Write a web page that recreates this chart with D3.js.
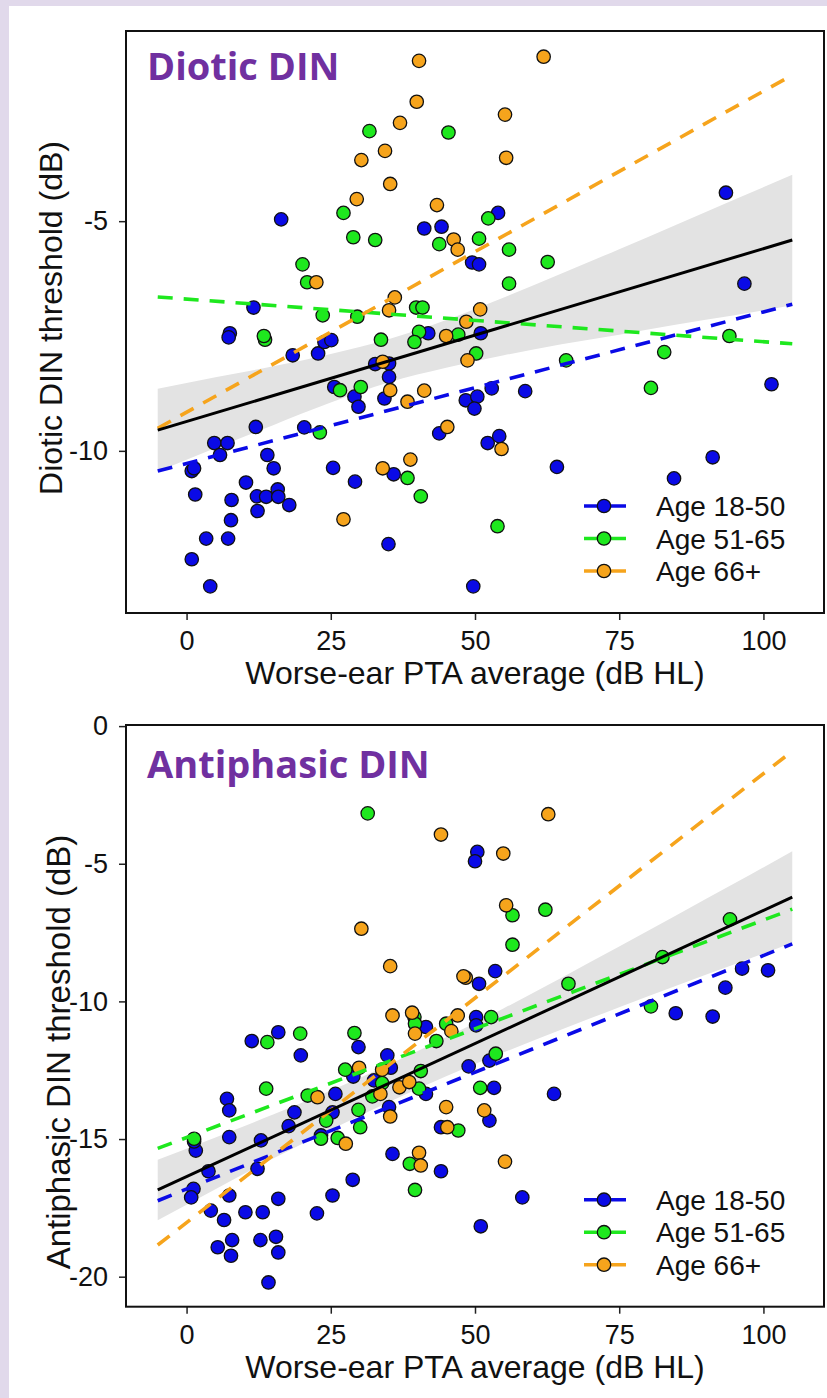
<!DOCTYPE html>
<html>
<head>
<meta charset="utf-8">
<script src="https://cdn.jsdelivr.net/npm/d3@7"></script>
<style>
  body { margin: 0; background: #e1d9eb; }
  svg { display: block; }
  .tick text { font-family: "Liberation Sans", Arial, sans-serif; font-size: 27px; fill: #111; }
  .tick line { stroke: #222; stroke-width: 1.5; }
</style>
</head>
<body>
<script>
// ---- data ----
var xTicks = [0, 25, 50, 75, 100];
var dioticTicks = [-10, -5];
var antiTicks = [-20, -15, -10, -5, 0];
var groups = ['Age 18-50', 'Age 51-65', 'Age 66+'];
var groupColors = ['#0a0ae6', '#1ee81e', '#f6a41c'];

var dioticYoung = [[16.4,-4.96],[41.2,-5.16],[44.2,-5.12],[11.6,-6.88],[93.5,-4.38],[96.7,-6.36],[54.0,-4.82],[49.5,-5.90],[50.7,-5.94],[41.9,-7.44],[51.0,-7.44],[48.4,-8.90],[50.4,-8.82],[49.9,-9.08],[52.9,-8.64],[58.7,-8.70],[101.4,-8.55],[43.8,-9.62],[52.2,-9.83],[54.2,-9.68],[64.2,-10.35],[84.5,-10.60],[91.2,-10.14],[49.7,-12.95],[7.5,-7.44],[7.3,-7.53],[18.4,-7.92],[22.8,-7.88],[23.9,-7.63],[25.1,-7.59],[32.7,-8.11],[35.1,-8.10],[35.1,-8.39],[25.6,-8.61],[29.1,-8.82],[29.8,-9.04],[34.3,-8.86],[12.0,-9.48],[20.4,-9.49],[4.8,-9.83],[7.1,-9.83],[5.8,-10.09],[14.0,-10.09],[0.9,-10.44],[1.3,-10.38],[15.1,-10.38],[25.4,-10.37],[29.2,-10.67],[35.9,-10.51],[1.5,-10.95],[10.3,-10.69],[7.8,-11.07],[12.2,-10.99],[13.8,-11.00],[15.8,-10.84],[15.9,-11.00],[17.8,-11.18],[12.3,-11.31],[7.7,-11.51],[3.4,-11.91],[7.2,-11.91],[35.0,-12.03],[0.9,-12.36],[4.1,-12.95]];
var dioticMid = [[31.7,-3.04],[45.4,-3.07],[27.2,-4.82],[28.9,-5.35],[32.7,-5.41],[43.8,-5.50],[20.1,-5.94],[20.9,-6.33],[23.6,-7.05],[29.6,-7.08],[39.8,-6.88],[40.9,-6.88],[52.3,-4.94],[50.7,-5.38],[55.9,-5.62],[62.6,-5.89],[55.9,-6.36],[40.3,-7.41],[47.1,-7.47],[50.2,-7.88],[65.8,-8.03],[82.8,-7.85],[94.1,-7.50],[80.5,-8.63],[40.6,-10.99],[53.9,-11.64],[13.6,-7.58],[13.4,-7.50],[33.7,-7.58],[39.5,-7.63],[26.6,-8.68],[30.2,-8.61],[23.1,-9.60],[38.3,-10.59]];
var dioticOld = [[40.3,-1.51],[39.9,-2.40],[37.0,-2.86],[34.4,-3.47],[30.3,-3.67],[35.3,-4.19],[29.5,-4.52],[43.4,-4.65],[22.5,-6.33],[46.3,-5.40],[47.0,-5.62],[36.1,-6.66],[35.1,-6.94],[61.9,-1.42],[55.2,-2.68],[55.4,-3.62],[50.9,-6.92],[48.5,-7.19],[45.0,-7.50],[48.7,-8.03],[41.2,-8.69],[45.2,-9.48],[54.6,-9.96],[34.0,-8.06],[35.3,-8.68],[38.3,-8.93],[34.0,-10.38],[38.8,-10.19],[27.2,-11.49]];

var antiYoung = [[50.4,-4.57],[50.0,-4.91],[53.5,-8.90],[50.7,-9.36],[93.4,-9.50],[96.3,-8.81],[100.8,-8.87],[84.8,-10.43],[91.2,-10.55],[50.2,-10.57],[50.2,-10.87],[41.5,-10.93],[48.9,-12.36],[52.5,-12.15],[41.5,-13.36],[53.3,-13.14],[63.7,-13.36],[52.5,-14.33],[44.1,-14.57],[44.1,-16.17],[58.2,-17.12],[51.0,-18.17],[11.3,-11.44],[15.9,-11.12],[19.8,-11.96],[29.8,-11.66],[34.8,-11.96],[35.4,-12.41],[28.9,-12.73],[7.0,-13.54],[7.4,-13.96],[18.7,-14.03],[25.8,-13.36],[32.5,-12.87],[35.1,-13.84],[17.7,-14.53],[25.3,-14.03],[23.3,-14.87],[7.4,-14.93],[12.9,-15.05],[1.6,-15.42],[1.3,-15.09],[35.7,-15.54],[3.8,-16.17],[12.3,-16.08],[28.8,-16.48],[1.2,-16.81],[0.8,-17.12],[7.4,-17.05],[15.9,-17.17],[25.3,-17.05],[4.2,-17.60],[10.2,-17.66],[13.2,-17.66],[22.6,-17.70],[6.5,-17.94],[7.9,-18.67],[5.4,-18.93],[7.7,-19.24],[12.8,-18.67],[15.5,-18.55],[15.9,-19.12],[14.2,-20.21]];
var antiMid = [[31.4,-3.17],[56.5,-6.87],[62.2,-6.67],[56.5,-7.94],[66.2,-9.36],[82.5,-8.39],[94.2,-7.02],[80.5,-10.18],[52.8,-10.57],[39.5,-10.57],[39.6,-10.81],[45.0,-10.81],[43.3,-11.44],[53.6,-11.90],[40.6,-12.53],[40.3,-13.17],[50.9,-13.14],[47.1,-14.69],[39.6,-16.85],[14.0,-11.48],[19.7,-11.17],[29.1,-11.15],[27.5,-12.48],[13.8,-13.17],[21.0,-13.42],[33.9,-12.97],[32.2,-13.45],[29.8,-13.94],[30.1,-14.57],[24.2,-14.33],[23.3,-14.99],[26.2,-14.96],[1.3,-14.99],[38.7,-15.90]];
var antiOld = [[44.1,-3.94],[62.7,-3.20],[54.9,-4.63],[30.3,-7.36],[35.3,-8.72],[55.4,-6.51],[48.4,-9.14],[48.0,-9.09],[35.7,-10.51],[39.1,-10.41],[39.6,-11.17],[47.0,-10.51],[45.9,-11.08],[33.9,-12.48],[29.9,-12.41],[22.7,-13.48],[33.6,-13.36],[36.9,-13.12],[38.6,-12.93],[35.3,-14.18],[27.6,-15.17],[45.0,-13.84],[51.6,-13.96],[45.2,-14.57],[40.3,-15.50],[40.6,-15.96],[55.2,-15.82]];

// regression lines (value at x = -5 and x = 105)
var fitX = [-5, 105];
var dioticFitAll = [-9.55, -5.41];
var dioticFitGroups = [[-10.44, -6.81], [-6.65, -7.67], [-9.51, -1.82]];
var antiFitAll = [-16.85, -6.21];
var antiFitGroups = [[-17.24, -7.91], [-15.34, -6.65], [-18.85, -0.91]];

// confidence band of the overall fit
var bandX = [-5, 5, 15, 25, 35, 45, 55, 65, 75, 85, 95, 105];
var dioticUpper = [-8.65, -8.40, -8.16, -7.89, -7.57, -7.15, -6.66, -6.14, -5.61, -5.07, -4.53, -3.99];
var dioticLower = [-10.45, -9.94, -9.44, -8.95, -8.51, -8.19, -7.92, -7.68, -7.47, -7.25, -7.05, -6.83];
var antiUpper = [-15.75, -14.94, -14.11, -13.24, -12.30, -11.30, -10.25, -9.14, -8.01, -6.86, -5.71, -4.55];
var antiLower = [-17.95, -16.82, -15.71, -14.66, -13.66, -12.72, -11.85, -11.02, -10.21, -9.42, -8.65, -7.87];

// ---- layout ----
var width = 827, height = 1398;
var left = 126, right = 824;
var xDomain = [-10.5, 110.5];

var svg = d3.select('body').append('svg')
  .attr('width', width)
  .attr('height', height);

svg.append('rect').attr('width', width).attr('height', height).attr('fill', '#e1d9eb');
svg.append('rect').attr('x', 9).attr('y', 6).attr('width', width - 9).attr('height', height - 6).attr('fill', '#fff');

var panels = [
  { title: 'Diotic DIN', titleY: 80, yLabel: 'Diotic DIN threshold (dB)', yLabelX: 62, yLabelY: 318, yLabelSize: 32,
    top: 31, bottom: 613, yDomain: [-13.53, -0.86], yTicks: dioticTicks,
    pts: [dioticYoung, dioticMid, dioticOld], fitAll: dioticFitAll, fitGroups: dioticFitGroups,
    upper: dioticUpper, lower: dioticLower },
  { title: 'Antiphasic DIN', titleY: 778, yLabel: 'Antiphasic DIN threshold (dB)', yLabelX: 70, yLabelY: 1052, yLabelSize: 33,
    top: 725, bottom: 1306.7, yDomain: [-21.09, 0.04], yTicks: antiTicks,
    pts: [antiYoung, antiMid, antiOld], fitAll: antiFitAll, fitGroups: antiFitGroups,
    upper: antiUpper, lower: antiLower }
];

panels.forEach(function (p) {
  var x = d3.scaleLinear().domain(xDomain).range([left, right]);
  var y = d3.scaleLinear().domain(p.yDomain).range([p.bottom, p.top]);
  var g = svg.append('g');

  // grey band
  var area = d3.area()
    .x(function (d, i) { return x(bandX[i]); })
    .y0(function (d, i) { return y(p.lower[i]); })
    .y1(function (d) { return y(d); })
    .curve(d3.curveMonotoneX);
  g.append('path').datum(p.upper).attr('d', area).attr('fill', '#e3e3e3');

  // points
  p.pts.forEach(function (set, gi) {
    g.append('g').selectAll('circle')
      .data(set)
      .join('circle')
      .attr('cx', function (d) { return x(d[0]); })
      .attr('cy', function (d) { return y(d[1]); })
      .attr('r', 6.7)
      .attr('fill', groupColors[gi])
      .attr('stroke', '#111')
      .attr('stroke-width', 1.3);
  });

  var line = d3.line()
    .x(function (d, i) { return x(fitX[i]); })
    .y(function (d) { return y(d); });

  // group fits (dashed)
  p.fitGroups.forEach(function (f, gi) {
    g.append('path').datum(f).attr('d', line)
      .attr('fill', 'none')
      .attr('stroke', groupColors[gi])
      .attr('stroke-width', 3.6)
      .attr('stroke-dasharray', '15 11');
  });

  // overall fit
  g.append('path').datum(p.fitAll).attr('d', line)
    .attr('fill', 'none').attr('stroke', '#000').attr('stroke-width', 3);

  // axes
  g.append('g')
    .attr('transform', 'translate(0,' + p.bottom + ')')
    .call(d3.axisBottom(x).tickValues(xTicks).tickSize(7).tickPadding(11).tickFormat(function (d) { return String(d); }))
    .call(function (a) { a.select('.domain').remove(); });
  g.append('g')
    .attr('transform', 'translate(' + left + ',0)')
    .call(d3.axisLeft(y).tickValues(p.yTicks).tickSize(7).tickPadding(11).tickFormat(function (d) { return String(d); }))
    .call(function (a) { a.select('.domain').remove(); });

  // frame
  g.append('rect')
    .attr('x', left).attr('y', p.top)
    .attr('width', right - left).attr('height', p.bottom - p.top)
    .attr('fill', 'none').attr('stroke', '#111').attr('stroke-width', 2);

  // axis titles
  g.append('text')
    .attr('x', (left + right) / 2).attr('y', p.bottom + 71)
    .attr('text-anchor', 'middle')
    .style('font-family', '"Liberation Sans", Arial, sans-serif')
    .style('font-size', '32px').attr('fill', '#111')
    .text('Worse-ear PTA average (dB HL)');
  g.append('text')
    .attr('transform', 'translate(' + p.yLabelX + ',' + p.yLabelY + ') rotate(-90)')
    .attr('text-anchor', 'middle')
    .style('font-family', '"Liberation Sans", Arial, sans-serif')
    .style('font-size', p.yLabelSize + 'px').attr('fill', '#111')
    .text(p.yLabel);

  // panel title
  g.append('text')
    .attr('x', 147).attr('y', p.titleY)
    .style('font-family', '"Open Sans", sans-serif')
    .style('font-weight', 700)
    .style('font-size', '38px')
    .attr('fill', '#7030a0')
    .text(p.title);

  // legend
  groups.forEach(function (name, gi) {
    var ly = p.bottom - 107 + gi * 32.5;
    var lg = g.append('g');
    lg.append('line')
      .attr('x1', 584).attr('x2', 626).attr('y1', ly).attr('y2', ly)
      .attr('stroke', groupColors[gi]).attr('stroke-width', 3.6)
      .attr('stroke-dasharray', '16 10 16');
    lg.append('circle')
      .attr('cx', 604).attr('cy', ly).attr('r', 6.7)
      .attr('fill', groupColors[gi]).attr('stroke', '#111').attr('stroke-width', 1.3);
    lg.append('text')
      .attr('x', 656).attr('y', ly).attr('dy', '0.36em')
      .style('font-family', '"Liberation Sans", Arial, sans-serif')
      .style('font-size', '28px').attr('fill', '#111')
      .text(name);
  });
});
</script>
</body>
</html>
